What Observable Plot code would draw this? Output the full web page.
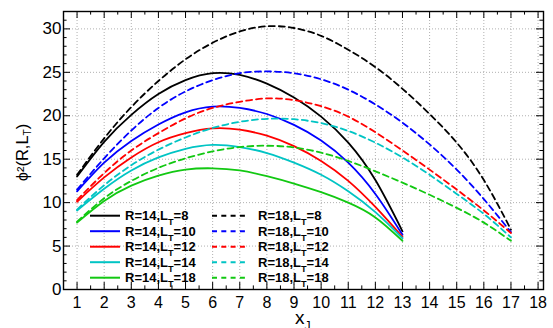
<!DOCTYPE html>
<html>
<head>
<meta charset="utf-8">
<script src="https://cdn.jsdelivr.net/npm/d3@7"></script>
<script src="https://cdn.jsdelivr.net/npm/@observablehq/plot@0.6"></script>
<style>
  html, body { margin: 0; padding: 0; background: #fff; }
  #chart svg { display: block; }
</style>
</head>
<body>
<div id="chart"></div>
<script>
// x_J sampling points for the two radii
const xJ_R14 = [1, 2, 3, 4, 5, 6, 7, 8, 9, 10, 11, 12, 13];
const xJ_R18 = [1, 2, 3, 4, 5, 6, 7, 8, 9, 10, 11, 12, 13, 14, 15, 16, 17];

// L_T values of each curve
const LT = [8, 10, 12, 14, 18];

// phi^2(R, L_T) for R = 14
const phi2_R14_L8  = [13.0, 17.0, 20.1, 22.5, 24.1, 24.9, 24.7, 23.7, 22.1, 19.9, 16.9, 12.6, 6.7];
const phi2_R14_L10 = [11.3, 14.6, 17.1, 19.0, 20.4, 21.05, 20.9, 20.2, 18.95, 17.15, 14.6, 11.0, 6.3];
const phi2_R14_L12 = [10.1, 12.9, 15.2, 16.95, 18.0, 18.55, 18.4, 17.7, 16.5, 14.8, 12.5, 9.5, 6.05];
const phi2_R14_L14 = [9.1, 11.6, 13.7, 15.2, 16.2, 16.65, 16.4, 15.7, 14.6, 13.2, 11.3, 8.9, 5.9];
const phi2_R14_L18 = [7.7, 10.2, 11.95, 13.1, 13.8, 13.95, 13.7, 13.05, 12.2, 11.2, 10.0, 8.3, 5.6];

// phi^2(R, L_T) for R = 18
const phi2_R18_L8  = [13.2, 17.4, 21.0, 24.0, 26.5, 28.4, 29.7, 30.3, 30.1, 29.2, 27.6, 25.6, 23.1, 20.2, 16.9, 12.6, 6.9];
const phi2_R18_L10 = [11.5, 15.1, 18.3, 20.9, 22.8, 24.1, 24.9, 25.1, 24.9, 24.2, 23.0, 21.3, 19.2, 16.7, 13.8, 10.4, 6.6];
const phi2_R18_L12 = [10.3, 13.4, 16.0, 18.0, 19.7, 20.9, 21.6, 22.0, 21.8, 21.1, 19.9, 18.1, 16.0, 13.8, 11.5, 9.1, 6.5];
const phi2_R18_L14 = [9.2, 12.0, 14.3, 16.1, 17.5, 18.6, 19.3, 19.65, 19.6, 19.15, 18.25, 16.9, 15.2, 13.2, 11.0, 8.7, 6.0];
const phi2_R18_L18 = [7.8, 10.5, 12.5, 14.0, 15.1, 15.9, 16.4, 16.55, 16.35, 15.75, 14.8, 13.6, 12.3, 10.9, 9.4, 7.7, 5.6];

// axis ticks
const xMajor = d3.range(1, 19);
const xMinor = d3.range(1.5, 18, 1);
const yMajor = [0, 5, 10, 15, 20, 25, 30];
const yMinor = d3.range(1, 32).filter(v => v % 5 !== 0);

// axis titles ("_" marks a subscript)
const xTitle = "x_J";
const yTitle = "ϕ²(R,L_T)";

// one colour per L_T
const lineColors = ["#000000", "#0000ff", "#ff0000", "#00c4c4", "#12c812"];

const R14 = [phi2_R14_L8, phi2_R14_L10, phi2_R14_L12, phi2_R14_L14, phi2_R14_L18];
const R18 = [phi2_R18_L8, phi2_R18_L10, phi2_R18_L12, phi2_R18_L14, phi2_R18_L18];

const toRows = (xs, sets, R) => sets.flatMap((ys, i) =>
  xs.map((x, j) => ({x, y: ys[j], key: `R${R}_L${LT[i]}`, color: lineColors[i]})));
const rows14 = toRows(xJ_R14, R14, 14);
const rows18 = toRows(xJ_R18, R18, 18);

const W = 553, H = 328;
const mTop = 11, mRight = 10, mBottom = 39, mLeft = 63;
const frameW = W - mLeft - mRight, frameH = H - mTop - mBottom;
const majorLen = 7, minorLen = 3.6;

const font = "'Liberation Sans', Arial, Helvetica, sans-serif";
const grid = {stroke: "#b0b0b0", strokeOpacity: 1, strokeWidth: 1, strokeDasharray: "1,2"};
const tick = {stroke: "#000", strokeWidth: 1};

const plot = Plot.plot({
  width: W,
  height: H,
  marginTop: mTop,
  marginRight: mRight,
  marginBottom: mBottom,
  marginLeft: mLeft,
  style: {fontFamily: font, background: "#fff", color: "#000", overflow: "visible"},
  x: {domain: [0.5, 18.2], label: null},
  y: {domain: [0, 32], label: null},
  color: {type: "identity"},
  marks: [
    Plot.gridX(xMajor, grid),
    Plot.gridY(yMajor.filter(v => v > 0), grid),
    Plot.line(rows14, {x: "x", y: "y", z: "key", stroke: "color", strokeWidth: 1.8, curve: "natural"}),
    Plot.line(rows18, {x: "x", y: "y", z: "key", stroke: "color", strokeWidth: 1.8, strokeDasharray: "6,4", curve: "natural"}),
    // inward ticks on all four sides
    Plot.ruleX(xMajor, {x: d => d, insetTop: frameH - majorLen, ...tick}),
    Plot.ruleX(xMinor, {x: d => d, insetTop: frameH - minorLen, ...tick}),
    Plot.ruleX(xMajor, {x: d => d, insetBottom: frameH - majorLen, ...tick}),
    Plot.ruleX(xMinor, {x: d => d, insetBottom: frameH - minorLen, ...tick}),
    Plot.ruleY(yMajor, {y: d => d, insetRight: frameW - majorLen, ...tick}),
    Plot.ruleY(yMinor, {y: d => d, insetRight: frameW - minorLen, ...tick}),
    Plot.ruleY(yMajor, {y: d => d, insetLeft: frameW - majorLen, ...tick}),
    Plot.ruleY(yMinor, {y: d => d, insetLeft: frameW - minorLen, ...tick}),
    Plot.frame({stroke: "#000", strokeWidth: 1.4}),
    // tick labels
    Plot.axisX(xMajor, {anchor: "bottom", tickSize: 0, tickPadding: 7, fontSize: 16, label: null, tickFormat: d => String(d)}),
    Plot.axisY(yMajor, {anchor: "left", tickSize: 0, tickPadding: 2, fontSize: 17, label: null, tickFormat: d => String(d)})
  ]
});

// write "A_B" markup as text with a lowered, smaller B
function setRichText(el, str, size, shift, subScale = 0.68) {
  const sel = d3.select(el);
  sel.text(null);
  let pending = 0;
  for (const p of str.split(/(_.)/)) {
    if (!p) continue;
    if (p.startsWith("_")) {
      sel.append("tspan").attr("font-size", size * subScale).attr("dy", shift).text(p.slice(1));
      pending = -shift;
    } else {
      const t = sel.append("tspan").text(p);
      if (pending) t.attr("dy", pending);
      pending = 0;
    }
  }
}

const svg = d3.select(plot);

// axis titles
const titles = svg.append("g").attr("font-family", font).attr("fill", "#000");
const xt = titles.append("text")
  .attr("transform", "translate(295,323.5)")
  .attr("text-anchor", "start")
  .attr("font-size", 19).node();
setRichText(xt, xTitle, 19, 6, 0.64);
const yt = titles.append("text")
  .attr("transform", "translate(27.5,152.5) rotate(-90)")
  .attr("text-anchor", "middle")
  .attr("font-size", 16.5).node();
setRichText(yt, yTitle, 16.5, 3, 0.62);

// legend: two columns (R = 14 solid, R = 18 dashed)
const legendCols = [
  {R: 14, x1: 90, x2: 120, tx: 125, dash: null},
  {R: 18, x1: 212, x2: 245, tx: 258, dash: "5,4.3"}
];
const legendTop = 215.7, legendStep = 15.5, legendSize = 13;
const leg = svg.append("g")
  .attr("font-family", font)
  .attr("font-weight", "bold")
  .attr("font-size", legendSize)
  .attr("text-anchor", "start");
legendCols.forEach(col => {
  LT.forEach((lt, i) => {
    const y = legendTop + i * legendStep;
    leg.append("line")
      .attr("x1", col.x1).attr("x2", col.x2).attr("y1", y).attr("y2", y)
      .attr("stroke", lineColors[i]).attr("stroke-width", 2)
      .attr("stroke-dasharray", col.dash);
    const t = leg.append("text").attr("x", col.tx).attr("y", y).attr("dy", "0.36em").node();
    setRichText(t, `R=${col.R},L_T=${lt}`, legendSize, 5, 0.7);
  });
});

document.getElementById("chart").appendChild(plot);
</script>
</body>
</html>
